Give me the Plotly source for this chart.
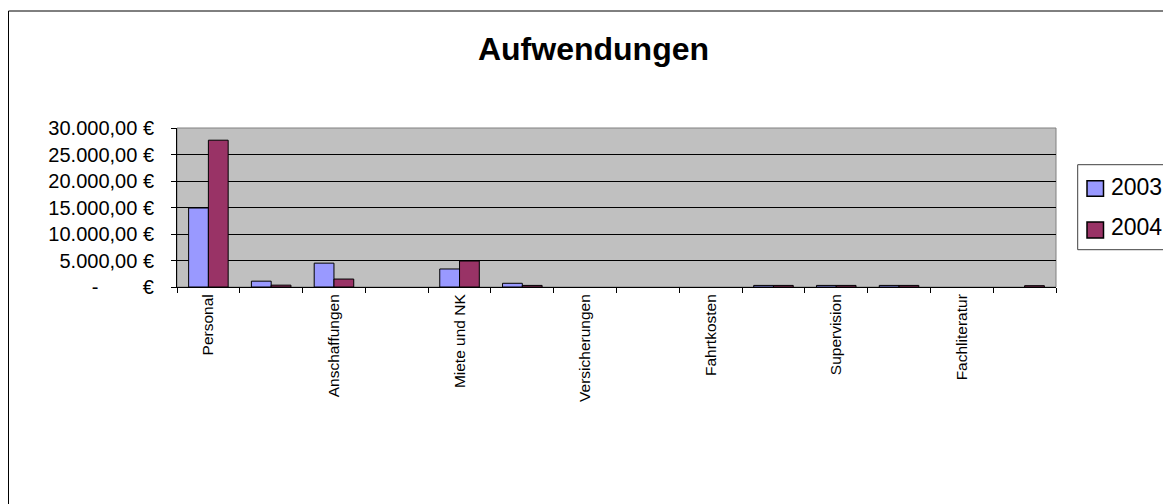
import plotly.graph_objects as go

# ---- data ----
labels = ["Personal", "", "Anschaffungen", "", "Miete und NK", "",
          "Versicherungen", "", "Fahrtkosten", "", "Supervision", "",
          "Fachliteratur", ""]
positions = list(range(len(labels)))
values_2003 = [14900, 1100, 4500, None, 3400, 700, None, None, None, 300, 300, 300, None, None]
values_2004 = [27700, 350, 1500, None, 4900, 300, None, None, None, 300, 300, 300, None, 250]
series_names = ["2003", "2004"]
series_colors = ["#9999FF", "#993366"]
y_tickvals = [0, 5000, 10000, 15000, 20000, 25000, 30000]
y_ticktext = ["-\u00a0\u00a0\u00a0\u00a0\u00a0\u00a0\u00a0\u00a0€", "5.000,00 €", "10.000,00 €",
              "15.000,00 €", "20.000,00 €", "25.000,00 €", "30.000,00 €"]

# ---- layout geometry (figure pixels; page has an 8px body margin) ----
W, H = 1171, 504
PL, PR, PT, PB = 169, 1048, 120, 279
pw, ph = PR - PL, PB - PT


def px_x(p):
    return (p - PL) / pw


def px_y(p):
    return (PB - p) / ph


FONT = "Liberation Sans, Arial, sans-serif"

fig = go.Figure()
for name, vals, col in zip(series_names, [values_2003, values_2004], series_colors):
    fig.add_trace(go.Bar(x=positions, y=vals, name=name,
                         marker=dict(color=col, line=dict(color="black", width=1))))

fig.update_layout(
    width=W, height=H,
    margin=dict(l=PL, r=W - PR, t=PT, b=H - PB, autoexpand=False),
    paper_bgcolor="white",
    plot_bgcolor="#C0C0C0",
    barmode="group",
    bargap=0.37,
    bargroupgap=0,
    font=dict(family=FONT, color="black"),
    title=dict(text="<b>Aufwendungen</b>", x=585.5 / W, y=1 - 41 / H,
               xanchor="center", yanchor="middle",
               font=dict(size=32, family=FONT, color="black")),
    showlegend=False,
    xaxis=dict(range=[-0.5, len(labels) - 0.5],
               tickmode="array", tickvals=positions, ticktext=labels,
               tickangle=-90, ticks="", showgrid=False, zeroline=False,
               showline=True, linecolor="black", linewidth=1,
               tickfont=dict(size=15.5, family=FONT, color="black"),
               ticklabelstandoff=0,
               minor=dict(tickmode="array",
                          tickvals=[p - 0.5 for p in positions] + [len(labels) - 0.5],
                          ticks="outside", ticklen=5, tickcolor="black", tickwidth=1,
                          showgrid=False)),
    yaxis=dict(range=[0, 30000], tickmode="array", tickvals=y_tickvals,
               ticktext=y_ticktext, ticks="outside", ticklen=5,
               tickcolor="black", showgrid=True, gridcolor="black", gridwidth=1,
               zeroline=False, showline=True, linecolor="black", linewidth=1,
               tickfont=dict(size=20, family=FONT, color="black"),
               ticklabelstandoff=13),
)

# plot-area border (gray) and outer chart frame
fig.add_shape(type="rect", xref="paper", yref="paper", x0=0, x1=1, y0=0, y1=1,
              line=dict(color="#808080", width=1), layer="below")
fig.add_shape(type="rect", xref="paper", yref="paper",
              x0=px_x(0.5), x1=px_x(1190), y0=px_y(520), y1=px_y(3),
              line=dict(color="black", width=1))

# legend box (drawn as in the original, reaching the right edge)
fig.add_shape(type="rect", xref="paper", yref="paper",
              x0=px_x(1069.7), x1=px_x(1162), y0=px_y(241.7), y1=px_y(156.7),
              line=dict(color="#404040", width=1), fillcolor="white")
legend_rows = [(172.7, 188.3, 179), (214, 230, 219)]
for (top, bot, mid), name, col in zip(legend_rows, series_names, series_colors):
    fig.add_shape(type="rect", xref="paper", yref="paper",
                  x0=px_x(1079), x1=px_x(1095.5), y0=px_y(bot), y1=px_y(top),
                  line=dict(color="black", width=1.5), fillcolor=col)
    fig.add_annotation(xref="paper", yref="paper", x=px_x(1101), y=px_y(mid),
                       xanchor="left", yanchor="middle", text=name, showarrow=False,
                       font=dict(size=23, family=FONT, color="black"))

fig.write_html("out.html")
